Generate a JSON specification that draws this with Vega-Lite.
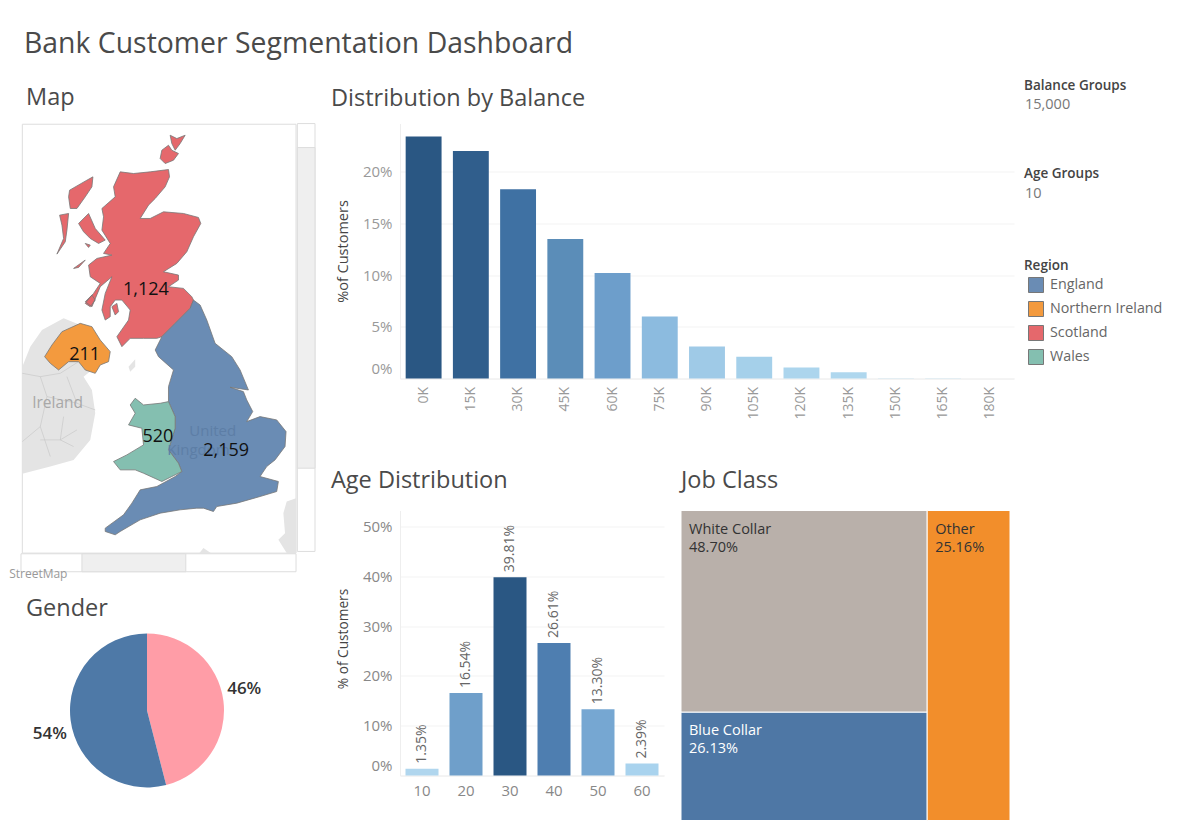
{"$schema":"https://vega.github.io/schema/vega-lite/v6.json","padding":{"left":6,"top":29.5,"right":0,"bottom":0},"background":"#ffffff","title":{"text":"Bank Customer Segmentation Dashboard","anchor":"start","frame":"group","dx":17,"fontSize":28.4,"fontWeight":"normal","color":"#4a4a4a","offset":19},"config":{"font":"Open Sans","view":{"stroke":null},"title":{"fontSize":23.5,"fontWeight":"normal","color":"#4a4a4a","anchor":"start","frame":"group"},"axis":{"ticks":false,"labelColor":"#999999","labelFontSize":15,"titleFontWeight":"normal","titleColor":"#444444","titleFontSize":14.5,"gridColor":"#f3f3f3","domainColor":"#eeeeee"}},"bounds":"flush","spacing":393,"resolve":{"scale":{"color":"independent"},"legend":{"color":"independent"}},"hconcat":[{"bounds":"flush","spacing":57,"resolve":{"scale":{"color":"independent"},"legend":{"color":"independent"}},"vconcat":[{"width":309,"height":453,"title":{"text":"Map","dx":19,"offset":12},"projection":{"type":"identity"},"data":{"values":{"type":"FeatureCollection","features":[
{"type":"Feature","properties":{"kind":"bounds"},"geometry":{"type":"Polygon","coordinates":[[[20,40],[948,40],[948,1400],[20,1400],[20,40]]]}},
{"type":"Feature","properties":{"kind":"box"},"geometry":{"type":"Polygon","coordinates":[[[66,42],[888,42],[888,1330],[66,1330],[66,42]]]}},
{"type":"Feature","properties":{"kind":"box"},"geometry":{"type":"Polygon","coordinates":[[[892,40],[945,40],[945,1325],[892,1325],[892,40]]]}},
{"type":"Feature","properties":{"kind":"box"},"geometry":{"type":"Polygon","coordinates":[[[62,1332],[888,1332],[888,1386],[62,1386],[62,1332]]]}},
{"type":"Feature","properties":{"kind":"thumb"},"geometry":{"type":"Polygon","coordinates":[[[892,112],[945,112],[945,1075],[892,1075],[892,112]]]}},
{"type":"Feature","properties":{"kind":"thumb"},"geometry":{"type":"Polygon","coordinates":[[[245,1332],[557,1332],[557,1386],[245,1386],[245,1332]]]}},
{"type":"Feature","properties":{"kind":"land"},"geometry":{"type":"MultiPolygon","coordinates":[[[[66,770],[90,710],[125,660],[190,625],[240,645],[300,760],[250,800],[275,840],[285,910],[270,990],[220,1050],[150,1070],[66,1092],[66,770]]],[[[385,770],[405,748],[405,770],[390,785],[385,770]]],[[[888,1165],[860,1175],[850,1210],[855,1270],[835,1290],[860,1330],[888,1330],[888,1165]]],[[[598,1330],[610,1315],[632,1330],[598,1330]]]]}},
{"type":"Feature","properties":{"kind":"line"},"geometry":{"type":"MultiLineString","coordinates":[[[66,790],[120,800],[180,790],[235,755]],[[120,800],[140,860],[230,880],[285,900]],[[140,860],[120,950],[66,995]],[[120,950],[150,1040]],[[120,990],[180,990],[230,960]],[[190,920],[180,990],[220,1010]],[[200,800],[230,880]]]}},
{"type":"Feature","properties":{"kind":"region","region":"Scotland"},"geometry":{"type":"MultiPolygon","coordinates":[[[[360,185],[400,190],[450,185],[505,178],[508,200],[495,230],[465,265],[445,285],[420,325],[450,325],[490,305],[550,310],[595,322],[602,340],[580,380],[560,425],[530,460],[490,485],[535,495],[535,510],[505,530],[550,535],[575,560],[580,570],[570,595],[525,640],[485,680],[470,685],[430,685],[390,685],[365,710],[350,680],[385,630],[390,600],[365,570],[345,570],[330,590],[330,620],[315,630],[305,600],[315,550],[335,500],[300,530],[275,590],[255,575],[280,550],[300,520],[270,500],[265,465],[290,445],[335,435],[310,430],[330,400],[305,360],[310,320],[305,295],[345,260],[340,230],[360,185]]],[[[208,240],[260,210],[278,200],[275,230],[255,260],[230,295],[210,295],[205,260],[208,240]]],[[[178,315],[205,310],[200,360],[195,395],[170,432],[190,385],[185,345],[178,315]]],[[[235,340],[265,310],[285,355],[315,390],[295,400],[270,385],[250,365],[235,340]]],[[[220,475],[255,450],[235,472],[220,475]]],[[[255,400],[270,405],[265,412],[255,400]]],[[[255,580],[275,555],[285,570],[270,590],[255,580]]],[[[335,590],[350,580],[355,605],[345,615],[335,590]]],[[[485,120],[505,105],[515,120],[535,130],[520,150],[495,160],[480,145],[485,120]]],[[[510,75],[530,85],[555,75],[540,100],[525,120],[515,100],[510,75]]]]}},
{"type":"Feature","properties":{"kind":"region","region":"Northern Ireland"},"geometry":{"type":"Polygon","coordinates":[[[133,740],[155,705],[185,665],[240,640],[275,650],[300,690],[330,725],[325,755],[300,765],[285,790],[255,780],[235,755],[205,755],[175,780],[150,760],[133,740]]]}},
{"type":"Feature","properties":{"kind":"region","region":"England"},"geometry":{"type":"Polygon","coordinates":[[[580,570],[600,585],[620,630],[645,700],[695,740],[720,780],[745,840],[690,832],[730,845],[740,870],[758,905],[740,935],[780,920],[830,930],[858,965],[855,1010],[825,1050],[800,1070],[780,1100],[835,1115],[830,1145],[780,1160],[710,1180],[650,1190],[640,1205],[610,1195],[590,1195],[540,1200],[480,1210],[420,1230],[360,1265],[345,1275],[315,1265],[315,1255],[370,1215],[395,1180],[420,1140],[470,1130],[525,1100],[545,1085],[535,1060],[505,1020],[525,955],[525,920],[505,875],[505,830],[520,780],[475,740],[465,720],[485,680],[525,640],[570,595],[580,570]]]}},
{"type":"Feature","properties":{"kind":"region","region":"Wales"},"geometry":{"type":"Polygon","coordinates":[[[505,875],[525,920],[525,955],[505,1020],[535,1060],[545,1085],[485,1115],[430,1090],[405,1080],[360,1080],[340,1055],[380,1035],[430,1005],[425,955],[385,945],[405,910],[390,885],[405,865],[430,885],[480,880],[505,875]]]}}
]},"format":{"type":"json","property":"features"}},"layer":[
{"transform":[{"filter":"datum.properties.kind==='bounds'"}],"mark":{"type":"geoshape","fill":null,"stroke":null},"encoding":{}},
{"transform":[{"filter":"datum.properties.kind==='box'"}],"mark":{"type":"geoshape","fill":"#ffffff","stroke":"#dddddd","strokeWidth":1},"encoding":{}},
{"transform":[{"filter":"datum.properties.kind==='thumb'"}],"mark":{"type":"geoshape","fill":"#efefef","stroke":"#dddddd","strokeWidth":1},"encoding":{}},
{"transform":[{"filter":"datum.properties.kind==='land'"}],"mark":{"type":"geoshape","fill":"#e4e4e4","stroke":null},"encoding":{}},
{"transform":[{"filter":"datum.properties.kind==='line'"}],"mark":{"type":"geoshape","filled":false,"stroke":"#c4c4c4","strokeWidth":0.6},"encoding":{}},
{"transform":[{"filter":"datum.properties.kind==='region'"}],"mark":{"type":"geoshape","stroke":"#777777","strokeWidth":0.8},"encoding":{"color":{"field":"properties.region","type":"nominal","scale":{"domain":["England","Northern Ireland","Scotland","Wales"],"range":["#6a8cb4","#f39a3e","#e5686c","#84bfb0"]},"legend":{"title":"Region","orient":"none","legendX":1017,"legendY":135,"symbolType":"square","symbolSize":225,"symbolOffset":4,"symbolStrokeColor":"#777777","symbolStrokeWidth":1,"symbolOpacity":1,"titleFontSize":13.5,"titleFontWeight":600,"titleColor":"#444444","titlePadding":5,"labelFontSize":14.3,"labelColor":"#666666","rowPadding":4,"labelOffset":6,"padding":0}}}},
{"data":{"values":[{"name":"Ireland","lon":172,"lat":878}]},"mark":{"type":"text","fontSize":15.5,"color":"#a8a8a8"},"encoding":{"longitude":{"field":"lon","type":"quantitative"},"latitude":{"field":"lat","type":"quantitative"},"text":{"field":"name"}}},
{"data":{"values":[{"name":"United","lon":638,"lat":962},{"name":"Kingdom","lon":595,"lat":1020}]},"mark":{"type":"text","fontSize":15,"color":"#5d7ea6"},"encoding":{"longitude":{"field":"lon","type":"quantitative"},"latitude":{"field":"lat","type":"quantitative"},"text":{"field":"name"}}},
{"data":{"values":[{"name":"StreetMap","lon":114,"lat":1392}]},"mark":{"type":"text","fontSize":12,"color":"#999999"},"encoding":{"longitude":{"field":"lon","type":"quantitative"},"latitude":{"field":"lat","type":"quantitative"},"text":{"field":"name"}}},
{"data":{"values":[{"count":"1,124","lon":437,"lat":540},{"count":"211","lon":253,"lat":735},{"count":"520","lon":473,"lat":980},{"count":"2,159","lon":678,"lat":1023}]},"mark":{"type":"text","fontSize":18,"color":"#111111"},"encoding":{"longitude":{"field":"lon","type":"quantitative"},"latitude":{"field":"lat","type":"quantitative"},"text":{"field":"count"}}}
]},
{"width":280,"height":154,"title":{"text":"Gender","dx":19,"offset":13},"data":{"values":[{"gender":"Female","share":46,"label":"46%"},{"gender":"Male","share":54,"label":"54%"}]},"layer":[{"mark":{"type":"arc","outerRadius":77},"encoding":{"theta":{"field":"share","type":"quantitative","stack":true},"order":{"field":"gender"},"color":{"field":"gender","type":"nominal","legend":null,"scale":{"domain":["Female","Male"],"range":["#ff9da7","#4e79a7"]}}}},{"mark":{"type":"text","radius":98,"fontSize":17,"fontWeight":600,"color":"#333333","dy":{"expr":"datum.gender==='Female'?-9:11"}},"encoding":{"theta":{"field":"share","type":"quantitative","stack":true},"order":{"field":"gender"},"detail":{"field":"gender"},"text":{"field":"label"}}}]}
]},
{"bounds":"flush","spacing":549,"resolve":{"scale":{"color":"independent"},"legend":{"color":"independent"}},"hconcat":[
{"bounds":"flush","spacing":132,"resolve":{"scale":{"color":"independent"},"legend":{"color":"independent"}},"vconcat":[{"width":614,"height":255,"title":{"text":"Distribution by Balance","dx":-69,"offset":13},"data":{"values":[{"balance":"0K","pct":23.4},{"balance":"15K","pct":22.0},{"balance":"30K","pct":18.3},{"balance":"45K","pct":13.5},{"balance":"60K","pct":10.2},{"balance":"75K","pct":6.0},{"balance":"90K","pct":3.1},{"balance":"105K","pct":2.1},{"balance":"120K","pct":1.07},{"balance":"135K","pct":0.6},{"balance":"150K","pct":0.03},{"balance":"165K","pct":0.02},{"balance":"180K","pct":0.01}]},"mark":{"type":"bar"},"encoding":{"x":{"field":"balance","type":"nominal","sort":null,"title":null,"scale":{"paddingInner":0.24,"paddingOuter":0.12},"axis":{"labelAngle":270,"labelPadding":8,"labelFontSize":14,"labelAlign":"right","labelBaseline":"middle"}},"y":{"field":"pct","type":"quantitative","title":"%of Customers","scale":{"domain":[0,24.66],"nice":false},"axis":{"values":[0,5,10,15,20],"labelExpr":"datum.value+'%'","labelPadding":8,"titleX":-50,"labelOffset":{"expr":"datum.value===0?-10:0"}}},"color":{"field":"pct","type":"quantitative","legend":null,"scale":{"domain":[0,1,3,6,10.2,13.5,18.3,23.4],"range":["#b4daf0","#acd5ed","#a0cbe7","#8cbbdf","#6d9ecb","#5b8db8","#3f71a3","#2a5783"]}}}},
{"bounds":"flush","spacing":17,"resolve":{"scale":{"color":"independent"},"legend":{"color":"independent"}},"hconcat":[{"width":264,"height":265,"title":{"text":"Age Distribution","dx":-69,"offset":18},"data":{"values":[{"age":10,"pct":1.35,"label":"1.35%"},{"age":20,"pct":16.54,"label":"16.54%"},{"age":30,"pct":39.81,"label":"39.81%"},{"age":40,"pct":26.61,"label":"26.61%"},{"age":50,"pct":13.3,"label":"13.30%"},{"age":60,"pct":2.39,"label":"2.39%"}]},"encoding":{"x":{"field":"age","type":"ordinal","title":null,"scale":{"paddingInner":0.25,"paddingOuter":0.125},"axis":{"labelAngle":0,"labelPadding":8,"labelFontSize":15,"labelColor":"#888888"}},"y":{"field":"pct","type":"quantitative","title":"% of Customers","scale":{"domain":[0,53.2],"nice":false},"axis":{"values":[0,10,20,30,40,50],"labelExpr":"datum.value+'%'","labelPadding":8,"labelFontSize":15,"labelColor":"#888888","titleX":-50,"titleY":128,"titleFontSize":13.7,"labelOffset":{"expr":"datum.value===0?-10:0"}}}},"layer":[{"mark":{"type":"bar"},"encoding":{"color":{"field":"pct","type":"quantitative","legend":null,"scale":{"domain":[1.35,2.39,13.3,16.54,26.61,39.81],"range":["#b0d6ee","#a9d3ee","#76a7d2","#6f9fca","#4e7eb0","#2a5783"]}}}},{"mark":{"type":"text","angle":270,"align":"left","baseline":"middle","dx":5,"fontSize":14,"color":"#666666"},"encoding":{"text":{"field":"label"}}}]},
{"width":329,"height":310,"title":{"text":"Job Class","dx":0,"offset":18},"data":{"values":[{"job":"White Collar","label":"48.70%","x0":0,"x1":74.83,"y0":0,"y1":65.08},{"job":"Blue Collar","label":"26.13%","x0":0,"x1":74.83,"y0":65.08,"y1":100},{"job":"Other","label":"25.16%","x0":74.83,"x1":100,"y0":0,"y1":100}]},"encoding":{"x":{"field":"x0","type":"quantitative","axis":null,"scale":{"domain":[0,100],"nice":false}},"y":{"field":"y0","type":"quantitative","axis":null,"scale":{"domain":[0,100],"nice":false,"reverse":true}}},"resolve":{"scale":{"color":"independent"}},"layer":[{"mark":{"type":"rect","stroke":"#ffffff","strokeWidth":1},"encoding":{"x2":{"field":"x1"},"y2":{"field":"y1"},"color":{"field":"job","type":"nominal","legend":null,"scale":{"domain":["White Collar","Blue Collar","Other"],"range":["#b9b0aa","#4e77a5","#f28e2b"]}}}},{"mark":{"type":"text","align":"left","baseline":"middle","dx":8,"dy":19,"fontSize":14.5},"encoding":{"text":{"field":"job"},"color":{"field":"job","type":"nominal","legend":null,"scale":{"domain":["White Collar","Blue Collar","Other"],"range":["#333333","#ffffff","#333333"]}}}},{"mark":{"type":"text","align":"left","baseline":"middle","dx":8,"dy":37,"fontSize":14.5},"encoding":{"text":{"field":"label"},"color":{"field":"job","type":"nominal","legend":null,"scale":{"domain":["White Collar","Blue Collar","Other"],"range":["#333333","#ffffff","#333333"]}}}}]}
]}
]},
{"width":150,"height":120,"data":{"values":[{"text":"Balance Groups","row":0,"role":"name"},{"text":"15,000","row":19,"role":"value"},{"text":"Age Groups","row":88,"role":"name"},{"text":"10","row":108,"role":"value"}]},"encoding":{"y":{"field":"row","type":"quantitative","axis":null,"scale":{"domain":[0,120],"nice":false,"reverse":true}},"text":{"field":"text"}},"layer":[{"transform":[{"filter":"datum.role==='name'"}],"mark":{"type":"text","align":"left","baseline":"middle","dy":-38,"fontSize":13.5,"fontWeight":600,"color":"#444444"}},{"transform":[{"filter":"datum.role==='value'"}],"mark":{"type":"text","align":"left","baseline":"middle","dy":-38,"dx":1,"fontSize":14.5,"color":"#777777"}}]}
]}
]}
